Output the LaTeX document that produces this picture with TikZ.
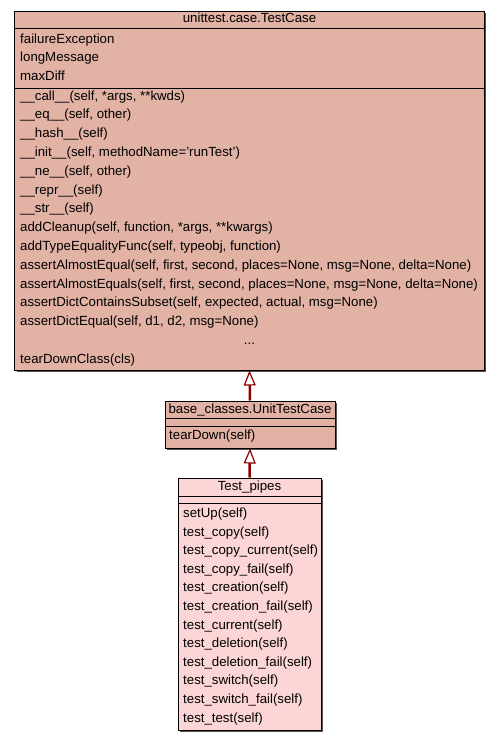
\documentclass[tikz,border=0pt]{standalone}
\usepackage{fontspec}
\setmainfont{Liberation Sans}
\usetikzlibrary{arrows.meta}
\definecolor{boxA}{RGB}{226,178,165}
\definecolor{boxB}{RGB}{252,213,214}
\definecolor{inhred}{RGB}{139,0,0}
\definecolor{shadowgray}{RGB}{90,80,80}
\tikzset{
  classbox/.style={draw=black, line width=1bp, inner sep=0pt},
  txt/.style={anchor=base west, inner sep=0pt, font=\fontsize{13.3}{15}\selectfont},
  ttl/.style={anchor=base, inner sep=0pt, font=\fontsize{13.3}{15}\selectfont},
  sep/.style={draw=black, line width=1bp},
  inh/.style={draw=inhred, line width=2.5bp, -{Triangle[length=15bp,width=12bp,fill=white,line width=1.2bp]}},
  shadow/.style={fill=shadowgray}
}
\begin{document}
\begin{tikzpicture}[x=1bp,y=-1bp]
\useasboundingbox[fill=white] (0,0) rectangle (499,741);
% shadows
\fill[shadow] (16.5,13.5) rectangle (486,372);
\fill[shadow] (166.5,402.5) rectangle (337,450);
\fill[shadow] (179.5,479.5) rectangle (323,732);
% boxes
\node[classbox, fill=boxA, minimum width=469bp, minimum height=358bp] (b1) at (249.5,191) {};
\node[classbox, fill=boxA, minimum width=170bp, minimum height=47bp] (b2) at (250,424.5) {};
\node[classbox, fill=boxB, minimum width=143bp, minimum height=252bp] (b3) at (249.5,604) {};
% box 1
\node[ttl] (t1) at (249.5,23) {unittest.case.TestCase};
\draw[sep] (b1.west |- 0,29) -- (b1.east |- 0,29);
\draw[sep] (b1.west |- 0,88) -- (b1.east |- 0,88);
\foreach \s [count=\i from 0] in {failureException,longMessage,maxDiff}
  \node[txt] (a\i) at (20,43.3+18.7*\i) {\s};
\foreach \s [count=\i from 0] in {
  \_\_call\_\_(self{,} *args{,} **kwds),
  \_\_eq\_\_(self{,} other),
  \_\_hash\_\_(self),
  \_\_init\_\_(self{,} methodName='runTest'),
  \_\_ne\_\_(self{,} other),
  \_\_repr\_\_(self),
  \_\_str\_\_(self),
  addCleanup(self{,} function{,} *args{,} **kwargs),
  addTypeEqualityFunc(self{,} typeobj{,} function),
  assertAlmostEqual(self{,} first{,} second{,} places=None{,} msg=None{,} delta=None),
  assertAlmostEquals(self{,} first{,} second{,} places=None{,} msg=None{,} delta=None),
  assertDictContainsSubset(self{,} expected{,} actual{,} msg=None),
  assertDictEqual(self{,} d1{,} d2{,} msg=None)}
  \node[txt] (m\i) at (20,100+18.8*\i) {\s};
\node[ttl] (dots) at (249.5,344.5) {...};
\node[txt] (mlast) at (20,363) {tearDownClass(cls)};
% box 2
\node[ttl] (t2) at (250,413) {base\_classes.UnitTestCase};
\draw[sep] (b2.west |- 0,418) -- (b2.east |- 0,418);
\draw[sep] (b2.west |- 0,426) -- (b2.east |- 0,426);
\node[txt] (td) at (169,439) {tearDown(self)};
% box 3
\node[ttl] (t3) at (249.5,490) {Test\_pipes};
\draw[sep] (b3.west |- 0,496) -- (b3.east |- 0,496);
\draw[sep] (b3.west |- 0,503) -- (b3.east |- 0,503);
\foreach \s [count=\i from 0] in {setUp(self),test\_copy(self),test\_copy\_current(self),test\_copy\_fail(self),test\_creation(self),test\_creation\_fail(self),test\_current(self),test\_deletion(self),test\_deletion\_fail(self),test\_switch(self),test\_switch\_fail(self),test\_test(self)}
  \node[txt] (p\i) at (183,517.5+18.61*\i) {\s};
% inheritance
\draw[inh] (b2.north) -- (b1.south);
\draw[inh] (b3.north) -- (b2.south);
\end{tikzpicture}
\end{document}
